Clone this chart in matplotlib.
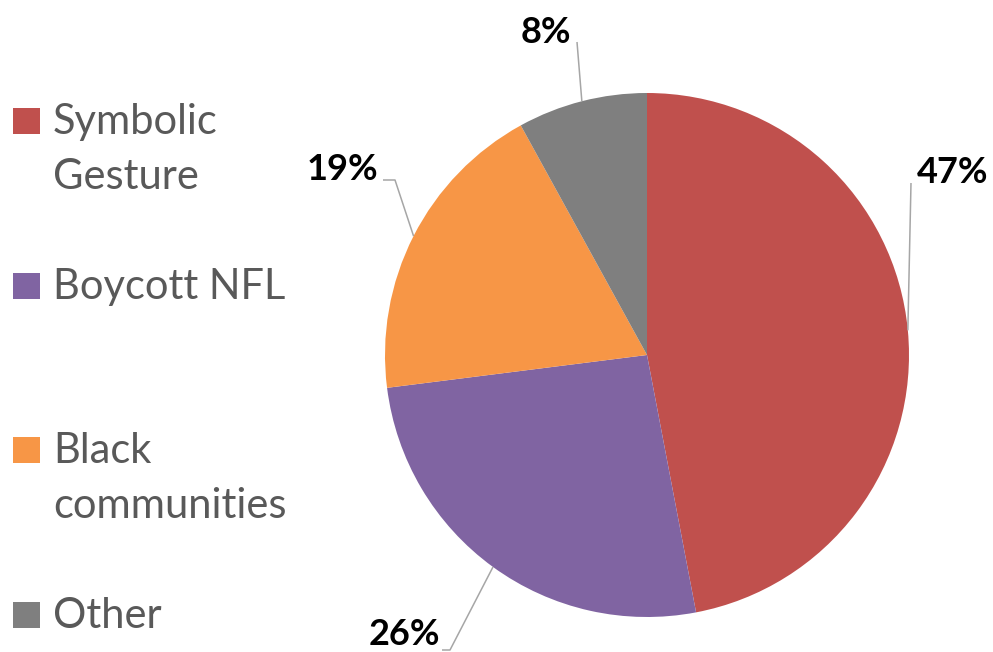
import numpy as np
import matplotlib
matplotlib.use("Agg")
import matplotlib.pyplot as plt
from matplotlib.patches import Rectangle

categories = ['Symbolic\nGesture', 'Boycott NFL', 'Black\ncommunities', 'Other']
values = [47, 26, 19, 8]
colors = ['#C0504D', '#8064A2', '#F79646', '#7F7F7F']

H = 652
def py(y):
    # pixel row (from top) -> data y
    return H - y

plt.rcParams['font.family'] = ['Lato', 'DejaVu Sans']

fig = plt.figure(figsize=(9.93, 6.52), dpi=100)
ax = fig.add_axes([0, 0, 1, 1])

cx, cy, r = 647, py(355), 262
wedges, _ = ax.pie(values, colors=colors, startangle=90, counterclock=False,
                   center=(cx, cy), radius=r, wedgeprops=dict(linewidth=0))
ax.set_xlim(0, 993)
ax.set_ylim(0, H)
ax.set_aspect('auto')
ax.axis('off')

# data labels: text position (x, baseline) and leader line start points
label_pos = [(953, 183), (404, 645), (342, 180), (546, 43)]
leader_start = [[(911, 183)], [(442, 650), (450, 650)], [(383, 180), (395, 180)], [(577, 42)]]

for w, v, (tx, ty), pts in zip(wedges, values, label_pos, leader_start):
    mid = np.deg2rad((w.theta1 + w.theta2) / 2)
    ex, ey = cx + r * np.cos(mid), cy + r * np.sin(mid)
    xs = [p[0] for p in pts] + [ex]
    ys = [py(p[1]) for p in pts] + [ey]
    ax.plot(xs, ys, color='#A6A6A6', lw=1.1, solid_capstyle='butt')
    ax.text(tx, py(ty), '%d%%' % v, ha='center', va='baseline',
            fontsize=26, fontweight='bold', color='black')

# legend
leg_y = [121, 286, 450, 615]
for lab, col, y in zip(categories, colors, leg_y):
    ax.add_patch(Rectangle((13, py(y) - 13), 27, 26, color=col, lw=0))
    for i, line in enumerate(lab.split('\n')):
        ax.text(53, py(y + 13 + 55 * i), line, ha='left', va='baseline',
                fontsize=30, color='#595959')

fig.savefig('out.png', dpi=100)
